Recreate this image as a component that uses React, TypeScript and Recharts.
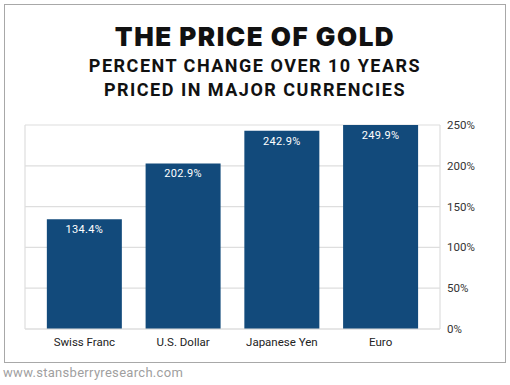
import React from "react";
import { BarChart, Bar, XAxis, YAxis, CartesianGrid, LabelList } from "recharts";

const currencies = ["Swiss Franc", "U.S. Dollar", "Japanese Yen", "Euro"];
const changes = [134.4, 202.9, 242.9, 249.9];
const yTicks = [0, 50, 100, 150, 200, 250];
const title = "THE PRICE OF GOLD";
const subtitle1 = "PERCENT CHANGE OVER 10 YEARS";
const subtitle2 = "PRICED IN MAJOR CURRENCIES";
const footer = "www.stansberryresearch.com";

const data = currencies.map((c, i) => ({ name: c, value: changes[i] }));

const BAR = "#124a7b";
const GRID = "#dedede";
const TEXT_FONT = "Roboto, 'Liberation Sans', Arial, sans-serif";

export default function App() {
  return (
    <div
      style={{
        position: "absolute",
        left: 0,
        top: 0,
        width: 510,
        height: 385,
        background: "#ffffff",
        overflow: "hidden",
      }}
    >
      <div
        style={{
          position: "absolute",
          left: 4,
          top: 4,
          width: 500,
          height: 357,
          border: "1px solid #a8a8a8",
        }}
      />
      <div
        style={{
          position: "absolute",
          left: 0,
          top: 20,
          width: 510,
          textAlign: "center",
          fontFamily: "Inter, Roboto, 'Liberation Sans', sans-serif",
          fontWeight: 900,
          fontSize: 26,
          letterSpacing: 1.5,
          lineHeight: "34px",
          color: "#111",
        }}
      >
        {title}
      </div>
      <div
        style={{
          position: "absolute",
          left: 0,
          top: 54,
          width: 510,
          textAlign: "center",
          fontFamily: "Roboto, 'Liberation Sans', sans-serif",
          fontWeight: 700,
          fontSize: 18,
          letterSpacing: 1.5,
          lineHeight: "24px",
          color: "#111",
        }}
      >
        <div>{subtitle1}</div>
        <div>{subtitle2}</div>
      </div>
      <div style={{ position: "absolute", left: 0, top: 0 }}>
        <BarChart
          width={510}
          height={385}
          data={data}
          margin={{ top: 125, right: 20, bottom: 32, left: 25 }}
          barCategoryGap="12%"
        >
          <CartesianGrid
            stroke={GRID}
            strokeWidth={1.2}
            verticalCoordinatesGenerator={({ offset }: any) => [
              offset.left,
              offset.left + offset.width,
            ]}
          />
          <XAxis
            dataKey="name"
            padding={{ left: 10, right: 10 }}
            tickLine={false}
            axisLine={{ stroke: GRID, strokeWidth: 1.2 }}
            tickSize={0}
            tickMargin={9}
            height={24}
            tick={{ fill: "#222", fontSize: 11.5, fontFamily: TEXT_FONT }}
            interval={0}
          />
          <YAxis
            orientation="right"
            domain={[0, 250]}
            ticks={yTicks}
            tickFormatter={(v: number) => `${v}%`}
            tickLine={false}
            axisLine={false}
            tickSize={0}
            tickMargin={7}
            width={50}
            tick={{ fill: "#333", fontSize: 11.5, fontFamily: TEXT_FONT }}
          />
          <Bar dataKey="value" fill={BAR} isAnimationActive={false}>
            <LabelList
              dataKey="value"
              position="insideTop"
              offset={6}
              formatter={(v: any) => `${Number(v).toFixed(1)}%`}
              style={{ fill: "#ffffff", fontSize: 11, letterSpacing: 0.3, fontFamily: TEXT_FONT }}
            />
          </Bar>
        </BarChart>
      </div>
      <div
        style={{
          position: "absolute",
          left: 3,
          top: 364,
          fontFamily: TEXT_FONT,
          fontSize: 13,
          letterSpacing: 0.3,
          color: "#a0a0a0",
          lineHeight: "18px",
        }}
      >
        {footer}
      </div>
    </div>
  );
}
